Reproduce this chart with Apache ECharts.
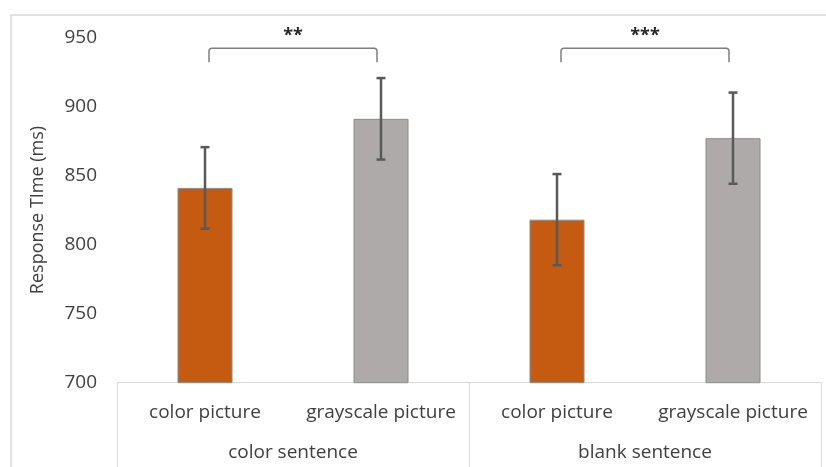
<!DOCTYPE html>
<html><head><meta charset="utf-8">
<script src="https://cdn.jsdelivr.net/npm/echarts@6/dist/echarts.min.js"></script>
<style>html,body{margin:0;padding:0;background:#fff}#c{width:826px;height:467px}</style>
</head><body><div id="c"></div>
<script>
// ---- data ----
const pictureLabels = ['color picture', 'grayscale picture', 'color picture', 'grayscale picture'];
const sentenceLabels = ['color sentence', 'blank sentence'];
const meanRT = [841, 891, 818, 877];
const errRT = [29.5, 29.5, 33, 33];
const barColors = ['#C55A11', '#AEAAAA', '#C55A11', '#AEAAAA'];
const yTickMin = 700, yTickMax = 950, yTickStep = 50;
const sigPairs = [[0, 1], [2, 3]];
const sigLabels = ['**', '***'];
const yTitle = 'Response TIme (ms)';

const FONT = 'Open Sans';
const TXT = '#404040';

const barData = meanRT.map((v, i) => ({ value: v, itemStyle: { color: barColors[i] } }));
const errData = meanRT.map((v, i) => [i, v - errRT[i], v + errRT[i]]);
const sigData = sigPairs.map((p, i) => [p[0], p[1], i]);

const chart = echarts.init(document.getElementById('c'), null, { renderer: 'canvas' });
chart.setOption({
  animation: false,
  backgroundColor: '#fff',
  graphic: [{
    type: 'rect', z: -10,
    shape: { x: 11, y: 15, width: 840, height: 480 },
    style: { fill: 'none', stroke: '#d9d9d9', lineWidth: 1.5 }
  }],
  grid: { left: 117, right: 5, top: 37.3, bottom: 84.3, containLabel: false },
  xAxis: [{
    type: 'category', data: pictureLabels,
    axisLine: { show: true, lineStyle: { color: '#d9d9d9', width: 1 } },
    axisTick: { show: false },
    axisLabel: { color: TXT, fontFamily: FONT, fontSize: 19, margin: 20, interval: 0 }
  }, {
    type: 'category', data: sentenceLabels, position: 'bottom',
    axisLine: { show: false },
    axisTick: { show: true, length: 100, lineStyle: { color: '#d9d9d9', width: 1 } },
    axisLabel: { color: TXT, fontFamily: FONT, fontSize: 19, margin: 60, interval: 0 }
  }],
  yAxis: {
    type: 'value', min: yTickMin, max: yTickMax, interval: yTickStep,
    axisLine: { show: false }, axisTick: { show: false }, splitLine: { show: false },
    axisLabel: { color: TXT, fontFamily: FONT, fontSize: 19, margin: 20 },
    name: yTitle, nameLocation: 'middle', nameRotate: 90, nameGap: 70,
    nameTextStyle: { color: TXT, fontFamily: FONT, fontSize: 18 }
  },
  series: [{
    type: 'bar', xAxisIndex: 0, data: barData, barWidth: 55,
    itemStyle: { borderColor: '#8c8c8c', borderWidth: 1 }
  }, {
    type: 'custom', xAxisIndex: 0, data: errData, z: 5, clip: false,
    encode: { x: 0, y: [1, 2] },
    renderItem: function (params, api) {
      const x = api.value(0);
      const pHi = api.coord([x, api.value(2)]);
      const pLo = api.coord([x, api.value(1)]);
      const cap = 4.5;
      const st = { stroke: '#595959', lineWidth: 2.5 };
      return { type: 'group', children: [
        { type: 'line', shape: { x1: pHi[0], y1: pHi[1], x2: pLo[0], y2: pLo[1] }, style: st },
        { type: 'line', shape: { x1: pHi[0] - cap, y1: pHi[1], x2: pHi[0] + cap, y2: pHi[1] }, style: st },
        { type: 'line', shape: { x1: pLo[0] - cap, y1: pLo[1], x2: pLo[0] + cap, y2: pLo[1] }, style: st }
      ] };
    }
  }, {
    type: 'custom', xAxisIndex: 0, data: sigData, z: 5, clip: false,
    encode: { x: [0, 1] },
    renderItem: function (params, api) {
      const a = api.coord([api.value(0), 942]);
      const b = api.coord([api.value(1), 942]);
      const leg = api.coord([api.value(0), 932])[1];
      const x1 = a[0] + 4, x2 = b[0] - 4, y = a[1], r = 3;
      const path = 'M' + x1 + ' ' + leg + ' L' + x1 + ' ' + (y + r) + ' Q' + x1 + ' ' + y + ' ' + (x1 + r) + ' ' + y +
        ' L' + (x2 - r) + ' ' + y + ' Q' + x2 + ' ' + y + ' ' + x2 + ' ' + (y + r) + ' L' + x2 + ' ' + leg;
      return { type: 'group', children: [
        { type: 'path', shape: { pathData: path }, style: { fill: 'none', stroke: '#7f7f7f', lineWidth: 1.5 } },
        { type: 'text', style: { text: sigLabels[api.value(2)], x: (x1 + x2) / 2, y: y - 12,
          align: 'center', verticalAlign: 'middle', fontFamily: FONT, fontSize: 18, fontWeight: 'bold', fill: '#262626' } }
      ] };
    }
  }]
});
</script></body></html>
